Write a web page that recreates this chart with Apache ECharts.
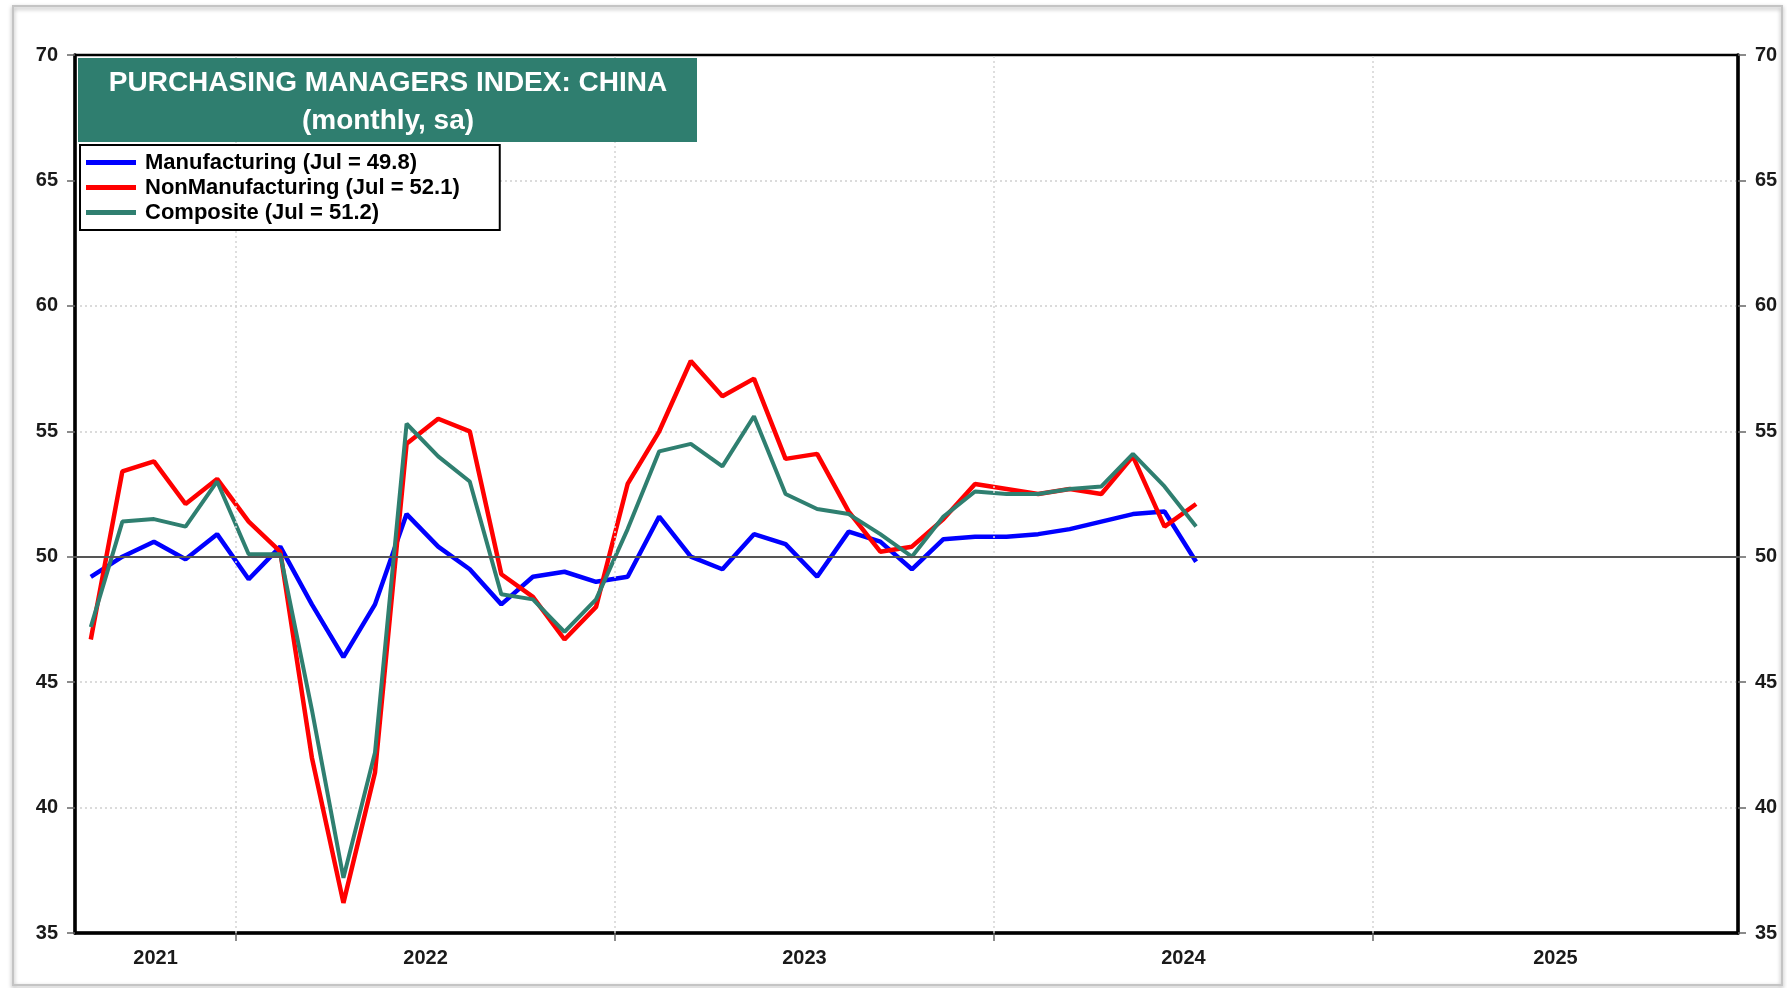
<!DOCTYPE html>
<html>
<head>
<meta charset="utf-8">
<title>PMI China</title>
<script src="https://cdn.jsdelivr.net/npm/echarts@6/dist/echarts.min.js"></script>
<style>
    html, body { margin: 0; padding: 0; background: #fff; }
    #chart { width: 1787px; height: 988px; }
</style>
</head>
<body>
<div id="chart"></div>
<script>
// monthly readings, Aug 2021 .. Jul 2024
const months = [
    "2021-08", "2021-09", "2021-10", "2021-11", "2021-12",
    "2022-01", "2022-02", "2022-03", "2022-04", "2022-05", "2022-06",
    "2022-07", "2022-08", "2022-09", "2022-10", "2022-11", "2022-12",
    "2023-01", "2023-02", "2023-03", "2023-04", "2023-05", "2023-06",
    "2023-07", "2023-08", "2023-09", "2023-10", "2023-11", "2023-12",
    "2024-01", "2024-02", "2024-03", "2024-04", "2024-05", "2024-06", "2024-07"
];
const manufacturing = [
    49.2, 50.0, 50.6, 49.9, 50.9,
    49.1, 50.4, 48.1, 46.0, 48.1, 51.7, 50.4, 49.5, 48.1, 49.2, 49.4, 49.0,
    49.2, 51.6, 50.0, 49.5, 50.9, 50.5, 49.2, 51.0, 50.6, 49.5, 50.7, 50.8,
    50.8, 50.9, 51.1, 51.4, 51.7, 51.8, 49.8
];
const nonManufacturing = [
    46.7, 53.4, 53.8, 52.1, 53.1,
    51.4, 50.2, 42.0, 36.2, 41.4, 54.5, 55.5, 55.0, 49.3, 48.4, 46.7, 48.0,
    52.9, 55.0, 57.8, 56.4, 57.1, 53.9, 54.1, 51.8, 50.2, 50.4, 51.5, 52.9,
    52.7, 52.5, 52.7, 52.5, 54.0, 51.2, 52.1
];
const composite = [
    47.2, 51.4, 51.5, 51.2, 53.0,
    50.1, 50.1, 43.9, 37.2, 42.2, 55.3, 54.0, 53.0, 48.5, 48.3, 47.0, 48.3,
    51.1, 54.2, 54.5, 53.6, 55.6, 52.5, 51.9, 51.7, 50.9, 50.0, 51.6, 52.6,
    52.5, 52.5, 52.7, 52.8, 54.1, 52.8, 51.2
];
const yearLabels = ["2021", "2022", "2023", "2024", "2025"];
const yTicks = [35, 40, 45, 50, 55, 60, 65, 70];

const FONT = "'Liberation Sans', Arial, sans-serif";
const BASE_YEAR = 2021;
// x axis counts months from Jan 2021
const X_MIN = 6.9, X_MAX = 59.56;

function monthPos(s) {
    let [y, m] = s.split("-").map(Number);
    return (y - BASE_YEAR) * 12 + (m - 1) + 0.4;
}
function pairs(vals) {
    return vals.map((v, i) => [monthPos(months[i]), v]);
}

// year boundaries and label positions (middle of the visible part of each year)
let yearStarts = yearLabels.map(y => (Number(y) - BASE_YEAR) * 12);
let boundaries = yearStarts.filter(v => v > X_MIN && v < X_MAX);
let labelPos = yearStarts.map(s => (Math.max(s, X_MIN) + Math.min(s + 12, X_MAX)) / 2);

let lastMonth = "Jul";
let names = [
    "Manufacturing (" + lastMonth + " = " + manufacturing[manufacturing.length - 1].toFixed(1) + ")",
    "NonManufacturing (" + lastMonth + " = " + nonManufacturing[nonManufacturing.length - 1].toFixed(1) + ")",
    "Composite (" + lastMonth + " = " + composite[composite.length - 1].toFixed(1) + ")"
];

let chart = echarts.init(document.getElementById("chart"));

let yAxisBase = {
    type: "value",
    min: yTicks[0],
    max: yTicks[yTicks.length - 1],
    interval: 5,
    axisLine: { show: true, lineStyle: { color: "#000", width: 3.5 } },
    axisTick: { show: true, inside: false, length: 8, lineStyle: { color: "#666", width: 1.5 } },
    axisLabel: { fontFamily: FONT, fontSize: 20, fontWeight: "bold", color: "#1a1a1a", margin: 17 }
};

chart.setOption({
    animation: false,
    backgroundColor: "#fff",
    grid: {
        left: 75, right: 49, top: 55, bottom: 55,
        show: true, borderColor: "#000", borderWidth: 2.5, backgroundColor: "transparent"
    },
    graphic: [
        {
            type: "rect", z: -10,
            shape: { x: 13, y: 6, width: 1769, height: 979 },
            style: { fill: "none", stroke: "#c4c4c4", lineWidth: 2,
                     shadowBlur: 4, shadowOffsetY: 2, shadowColor: "rgba(0,0,0,0.35)" }
        },
        {
            type: "rect", z: 50,
            shape: { x: 78, y: 58, width: 619, height: 84 },
            style: { fill: "#2f7e6f" }
        },
        {
            type: "text", z: 51,
            style: { x: 388, y: 64, text: "PURCHASING MANAGERS INDEX: CHINA\n(monthly, sa)",
                     align: "center", verticalAlign: "top",
                     fill: "#fff", font: "bold 28px " + FONT, lineHeight: 38 }
        }
    ],
    legend: {
        data: names,
        orient: "vertical",
        left: 80, top: 145,
        padding: [5, 40, 5, 6],
        itemGap: 0,
        itemWidth: 50,
        itemHeight: 5,
        icon: "rect",
        borderColor: "#000",
        borderWidth: 2,
        backgroundColor: "#fff",
        z: 60,
        textStyle: { fontFamily: FONT, fontSize: 22, fontWeight: "bold", color: "#000",
                     lineHeight: 25, padding: [0, 0, 0, 4] }
    },
    xAxis: {
        type: "value",
        min: X_MIN, max: X_MAX,
        axisLine: { show: true, onZero: false, lineStyle: { color: "#000", width: 3.5 } },
        axisTick: { show: true, customValues: boundaries, length: 8, lineStyle: { color: "#666", width: 1.5 } },
        axisLabel: {
            customValues: labelPos,
            formatter: v => yearLabels[labelPos.indexOf(v)] || "",
            fontFamily: FONT, fontSize: 20, fontWeight: "bold", color: "#1a1a1a", margin: 15
        },
        splitLine: { show: false }
    },
    yAxis: [
        Object.assign({}, yAxisBase, {
            position: "left",
            splitLine: { show: true, showMinLine: false, showMaxLine: false,
                         lineStyle: { color: "#cfcfcf", type: [2, 3], width: 1.5 } }
        }),
        Object.assign({}, yAxisBase, {
            position: "right",
            splitLine: { show: false }
        })
    ],
    series: [
        {
            name: "refs",
            type: "line",
            data: [],
            z: 1,
            silent: true,
            markLine: {
                silent: true,
                symbol: "none",
                label: { show: false },
                data: boundaries.map(b => ({
                    xAxis: b, lineStyle: { color: "#d4d4d4", type: [2, 3], width: 1.5 }
                })).concat([{ yAxis: 50, lineStyle: { color: "#555", type: "solid", width: 1.8 } }])
            }
        },
        {
            name: names[0], type: "line", z: 3, data: pairs(manufacturing),
            showSymbol: false, color: "#0000ff",
            lineStyle: { color: "#0000ff", width: 4.5 }
        },
        {
            name: names[1], type: "line", z: 3, data: pairs(nonManufacturing),
            showSymbol: false, color: "#ff0000",
            lineStyle: { color: "#ff0000", width: 4.5 }
        },
        {
            name: names[2], type: "line", z: 3, data: pairs(composite),
            showSymbol: false, color: "#2f7f70",
            lineStyle: { color: "#2f7f70", width: 4 }
        }
    ]
});
</script>
</body>
</html>
